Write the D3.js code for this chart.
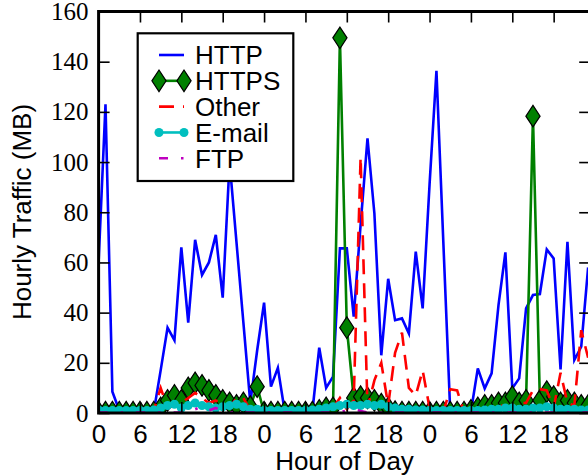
<!DOCTYPE html>
<html>
<head>
<meta charset="utf-8">
<script src="https://cdn.jsdelivr.net/npm/d3@7"></script>
<style>
  body { margin: 0; background: #fff; }
  svg { display: block; }
</style>
</head>
<body>
<svg id="chart" width="588" height="475"></svg>
<script>
// ── DATA (hourly traffic in MB, three days) ────────────────────────────────────

const httpMB = [60, 123, 8.5, 1, 0.5, 0.5, 0.5, 0.5, 0.5, 17,
  34, 29, 66, 36, 69, 55, 60, 71, 46, 100,
  68, 36, 4, 25, 44, 10.5, 18, 0.5, 0.5, 0.5,
  0.5, 0.5, 26, 10, 14.5, 65.6, 65.6, 38.4, 75, 109.4,
  79.5, 23, 53.5, 37, 37.7, 31.7, 64.3, 41.7, 91, 136.4,
  68, 0.5, 0.5, 0.5, 0.5, 17.8, 9.8, 15.8, 43, 64,
  9.8, 13.8, 41.7, 47, 47.4, 65.2, 61.6, 17.4, 68.2, 21.1,
  26.4, 58];

const httpsMB = [0.3, 0.3, 0.3, 0.3, 0.3, 0.3, 0.3, 0.3, 0.3, 2,
  5, 7, 5, 10, 12, 11, 9, 7, 5, 4,
  3, 4, 2.5, 10.5, 0.3, 0.3, 0.3, 0.3, 0.3, 0.3,
  0.3, 0.3, 1, 2, 2, 149.5, 34, 6, 6.5, 6,
  5, 3.5, 2, 0.5, 0.3, 0.3, 0.3, 0.3, 0.3, 0.3,
  0.3, 0.3, 0.3, 0.3, 1, 2, 3, 3, 4, 4,
  6.5, 4, 5, 118.3, 5, 8.5, 6.5, 4, 5, 4,
  3, 3];

const otherMB = [2, 1.5, 0.5, 0.3, 0.3, 0.3, 0.3, 0.3, 1, 10,
  2, 3, 4, 6, 8, 6, 4, 5, 3, 2,
  6, 6, 1, 0.5, 0.3, 0.3, 0.3, 0.3, 0.3, 0.3,
  0.3, 0.3, 0.3, 1, 2, 6, 1.5, 5, 102, 2,
  13, 20, 3, 24, 32, 10, 7, 17, 2, 0.5,
  0.5, 9.5, 9, 0.3, 0.5, 1, 1.5, 2, 4, 2,
  3, 4, 4, 9, 9.5, 9, 2, 16, 4, 3,
  33, 22];

const emailMB = [1.2, 1, 1, 1, 1, 1, 1, 1, 1.2, 2,
  3, 3.5, 2, 3, 4, 3, 2.5, 2, 2.5, 3,
  3.5, 2.5, 1.5, 1.5, 1, 1, 1, 1, 1, 1,
  1, 1.2, 1.5, 2, 2.5, 3, 3.5, 3, 3, 3.5,
  3, 3.5, 2.5, 2, 1.5, 1.5, 1.2, 1.2, 1, 1,
  1, 1, 1, 1, 1, 1, 1.2, 1.5, 1.5, 2,
  2, 1.5, 1.5, 2, 2, 2.5, 2, 1.5, 1.5, 1.5,
  1.2, 1.2];

const ftpMB = [0.2, 0.2, 0.2, 0.2, 0.2, 0.2, 0.2, 0.2, 0.2, 0.2,
  0.2, 0.2, 0.3, 1, 1.5, 2.5, 1, 2, 0.8, 0.3,
  0.2, 0.2, 0.2, 0.2, 0.2, 0.2, 0.2, 0.2, 0.2, 0.2,
  0.2, 0.2, 0.2, 0.2, 0.2, 0.3, 1, 1.5, 0.8, 0.2,
  0.2, 0.2, 0.2, 0.2, 0.2, 0.2, 0.2, 0.2, 0.2, 0.2,
  0.2, 0.2, 0.2, 0.2, 0.2, 0.2, 0.2, 0.2, 0.2, 0.2,
  0.2, 0.2, 0.2, 0.2, 0.2, 0.2, 0.2, 0.2, 0.2, 0.2,
  0.2, 0.2];

const hourTicks  = [0, 6, 12, 18, 24, 30, 36, 42, 48, 54, 60, 66];
const hourLabels = ['0', '6', '12', '18', '0', '6', '12', '18', '0', '6', '12', '18'];
const mbTicks    = [0, 20, 40, 60, 80, 100, 120, 140, 160];

const seriesNames = ['HTTP', 'HTTPS', 'Other', 'E-mail', 'FTP'];

// ── STYLE ─────────────────────────────────────────────────────────────────────

const SANS  = "'Liberation Sans', Arial, sans-serif";
const SERIF = "'Liberation Serif', 'Times New Roman', serif";

const series = [
  { name: 'HTTP',   values: httpMB,  color: '#0000ff', dash: null,            marker: null },
  { name: 'HTTPS',  values: httpsMB, color: '#008000', dash: null,            marker: 'diamond' },
  { name: 'Other',  values: otherMB, color: '#ff0000', dash: '15,9',          marker: null },
  { name: 'E-mail', values: emailMB, color: '#00bfbf', dash: null,            marker: 'circle' },
  { name: 'FTP',    values: ftpMB,   color: '#bf00bf', dash: '9,13,2.5,13',   marker: null },
];

const DIAMOND = 'M0,-10.8L7.1,0L0,10.8L-7.1,0Z';

// ── SCALES ────────────────────────────────────────────────────────────────────

const svg = d3.select('#chart');

const x = d3.scaleLinear().domain([0, 71.3]).range([98.6, 590.2]);
const y = d3.scaleLinear().domain([0, 160]).range([413, 11.5]);

const [x0, x1] = x.range();
const [yb, yt] = y.range();

svg.append('defs').append('clipPath').attr('id', 'plot-clip')
  .append('rect')
  .attr('x', x0).attr('y', yt)
  .attr('width', x1 - x0).attr('height', yb - yt);

// ── SERIES ────────────────────────────────────────────────────────────────────

const plotG = svg.append('g').attr('clip-path', 'url(#plot-clip)');

const line = d3.line()
  .x((d, i) => x(i))
  .y(d => y(d));

series.forEach(s => {
  const g = plotG.append('g').attr('class', 'series');

  g.append('path')
    .datum(s.values)
    .attr('d', line)
    .attr('fill', 'none')
    .attr('stroke', s.color)
    .attr('stroke-width', 2.6)
    .attr('stroke-dasharray', s.dash);

  if (s.marker === 'diamond') {
    g.selectAll('path.mk')
      .data(s.values)
      .join('path')
      .attr('class', 'mk')
      .attr('d', DIAMOND)
      .attr('transform', (d, i) => `translate(${x(i)},${y(d)})`)
      .attr('fill', s.color)
      .attr('stroke', '#000')
      .attr('stroke-width', 1.2);
  } else if (s.marker === 'circle') {
    g.selectAll('circle')
      .data(s.values)
      .join('circle')
      .attr('cx', (d, i) => x(i))
      .attr('cy', d => y(d))
      .attr('r', 4.5)
      .attr('fill', s.color);
  }
});

// ── AXES (ticks inward on all four sides) ────────────────────────────────────

const TICK = 11;

const bottom = svg.append('g')
  .attr('transform', `translate(0,${yb})`)
  .call(d3.axisBottom(x).tickValues(hourTicks).tickSize(-TICK).tickPadding(12)
    .tickFormat((d, i) => hourLabels[i]));
bottom.selectAll('text').attr('font-family', SANS).attr('font-size', 26).attr('fill', '#000');

svg.append('g')
  .attr('transform', `translate(0,${yt})`)
  .call(d3.axisTop(x).tickValues(hourTicks).tickSize(-TICK).tickFormat(''));

const left = svg.append('g')
  .attr('transform', `translate(${x0},0)`)
  .call(d3.axisLeft(y).tickValues(mbTicks).tickSize(-TICK).tickPadding(10));
left.selectAll('text').attr('font-family', SERIF).attr('font-size', 25).attr('fill', '#000');

svg.append('g')
  .attr('transform', `translate(${x1},0)`)
  .call(d3.axisRight(y).tickValues(mbTicks).tickSize(-TICK).tickFormat(''));

svg.selectAll('.domain').remove();
svg.selectAll('.tick line').attr('stroke', '#000').attr('stroke-width', 1.6);

svg.append('rect')
  .attr('x', x0).attr('y', yt)
  .attr('width', x1 - x0).attr('height', yb - yt)
  .attr('fill', 'none')
  .attr('stroke', '#000')
  .attr('stroke-width', 3);

// axis titles
svg.append('text')
  .attr('x', 344.5).attr('y', 470)
  .attr('text-anchor', 'middle')
  .attr('font-family', SANS).attr('font-size', 26)
  .text('Hour of Day');

svg.append('text')
  .attr('transform', 'translate(31,212) rotate(-90)')
  .attr('text-anchor', 'middle')
  .attr('font-family', SANS).attr('font-size', 26)
  .text('Hourly Traffic (MB)');

// ── LEGEND ────────────────────────────────────────────────────────────────────

const legend = svg.append('g').attr('class', 'legend');

legend.append('rect')
  .attr('x', 137.7).attr('y', 33.3)
  .attr('width', 155.6).attr('height', 147.7)
  .attr('fill', '#fff')
  .attr('stroke', '#000')
  .attr('stroke-width', 2.2);

const rowY = d3.scalePoint().domain(seriesNames).range([55, 158.3]);

series.forEach(s => {
  const cy = rowY(s.name);
  const lx0 = 159, lx1 = 184;

  legend.append('line')
    .attr('x1', lx0).attr('x2', lx1)
    .attr('y1', cy).attr('y2', cy)
    .attr('stroke', s.color)
    .attr('stroke-width', 2.6)
    .attr('stroke-dasharray', s.dash);

  [lx0, lx1].forEach(mx => {
    if (s.marker === 'diamond') {
      legend.append('path')
        .attr('d', DIAMOND)
        .attr('transform', `translate(${mx},${cy})`)
        .attr('fill', s.color)
        .attr('stroke', '#000')
        .attr('stroke-width', 1.2);
    } else if (s.marker === 'circle') {
      legend.append('circle')
        .attr('cx', mx).attr('cy', cy).attr('r', 4.5)
        .attr('fill', s.color);
    }
  });

  legend.append('text')
    .attr('x', 195).attr('y', cy)
    .attr('dy', '0.36em')
    .attr('font-family', SANS).attr('font-size', 26)
    .text(s.name);
});
</script>
</body>
</html>
